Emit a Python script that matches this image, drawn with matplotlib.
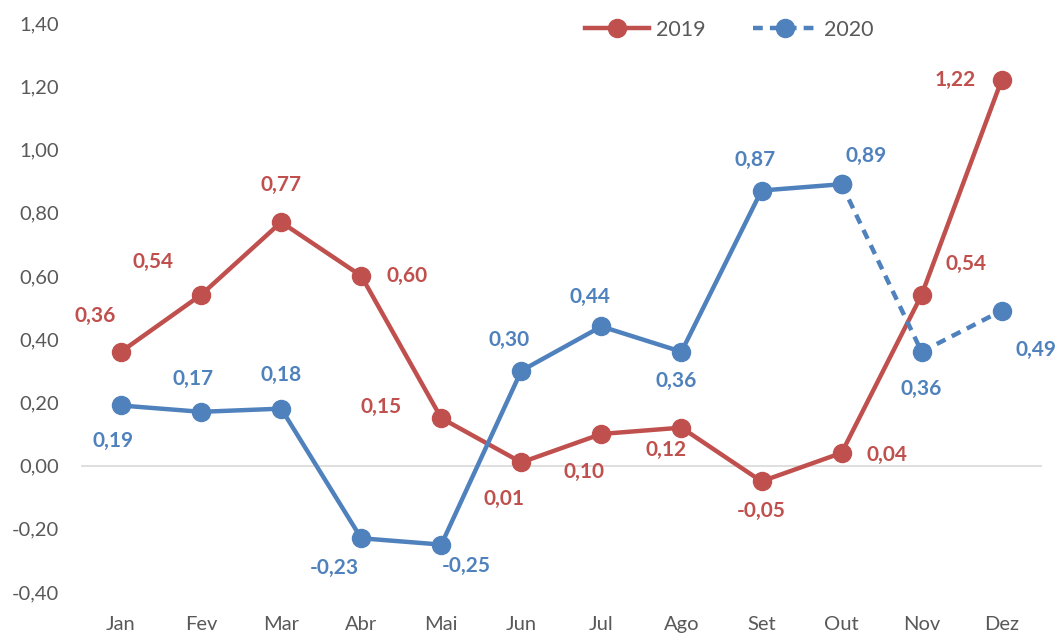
import numpy as np
import matplotlib
matplotlib.use("Agg")
import matplotlib.pyplot as plt
from matplotlib.lines import Line2D

plt.rcParams["font.family"] = ["Lato", "DejaVu Sans"]

months = ["Jan", "Fev", "Mar", "Abr", "Mai", "Jun", "Jul", "Ago", "Set", "Out", "Nov", "Dez"]
vals_2019 = [0.36, 0.54, 0.77, 0.60, 0.15, 0.01, 0.10, 0.12, -0.05, 0.04, 0.54, 1.22]
vals_2020 = [0.19, 0.17, 0.18, -0.23, -0.25, 0.30, 0.44, 0.36, 0.87, 0.89, 0.36, 0.49]
# label offsets in pixels (dx, dy) relative to each point
off_2019 = [(-26, 36), (-48, 33), (0, 37), (46, 0), (-60, 11), (-17, -37),
            (-17, -38), (-15, -22), (0, -30), (45, -2), (44, 31), (-47, 0)]
off_2020 = [(-8, -35), (-8, 33), (0, 34), (-27, -30), (25, -21), (-12, 31),
            (-11, 29), (-5, -29), (-6, 31), (25, 28), (0, -37), (34, -39)]

RED = "#C0504D"
BLUE = "#4F81BD"
GRAY = "#595959"

fig = plt.figure(figsize=(10.63, 6.35), dpi=100)
ax = fig.add_axes([0.0762, 0.0677, 0.9038, 0.8961])

x = np.arange(len(months))
lw = 3.2
ms = 13

ax.axhline(0, color="#D9D9D9", lw=1.2, zorder=1)

ax.plot(x, vals_2019, color=RED, lw=lw, marker="o", ms=ms, zorder=3)
ax.plot(x[:10], vals_2020[:10], color=BLUE, lw=lw, marker="o", ms=ms, zorder=3)
ax.plot(x[9:], vals_2020[9:], color=BLUE, lw=lw, ls=(0, (2.2, 1.6)), marker="o", ms=ms, zorder=3)

def fmt(v):
    return f"{v:.2f}".replace(".", ",")

for xi, v, (dx, dy) in zip(x, vals_2019, off_2019):
    ax.annotate(fmt(v), (xi, v), xytext=(dx, dy), textcoords="offset pixels",
                ha="center", va="center", color=RED, fontsize=15, fontweight="bold")
for xi, v, (dx, dy) in zip(x, vals_2020, off_2020):
    ax.annotate(fmt(v), (xi, v), xytext=(dx, dy), textcoords="offset pixels",
                ha="center", va="center", color=BLUE, fontsize=15, fontweight="bold")

ax.set_xlim(-0.5, 11.5)
ax.set_ylim(-0.4, 1.4)
ax.set_xticks(x)
ax.set_xticklabels(months)
yt = np.arange(-0.4, 1.41, 0.2)
ax.set_yticks(yt)
ax.set_yticklabels([fmt(v) for v in yt])
ax.tick_params(axis="both", length=0, labelsize=14.5, colors=GRAY)
ax.tick_params(axis="x", pad=17)
ax.tick_params(axis="y", pad=16)
for s in ax.spines.values():
    s.set_visible(False)

handles = [
    Line2D([0], [0], color=RED, lw=lw, marker="o", ms=ms),
    Line2D([0], [0], color=BLUE, lw=lw, ls=(0, (2.2, 1.6)), marker="o", ms=ms),
]
leg = ax.legend(handles, ["2019", "2020"], loc="upper right", bbox_to_anchor=(0.845, 1.04),
                ncol=2, frameon=False, fontsize=15.5, handlelength=3.0, columnspacing=2.2,
                handletextpad=0.3)
for t in leg.get_texts():
    t.set_color(GRAY)

fig.savefig("out.png", dpi=100)
